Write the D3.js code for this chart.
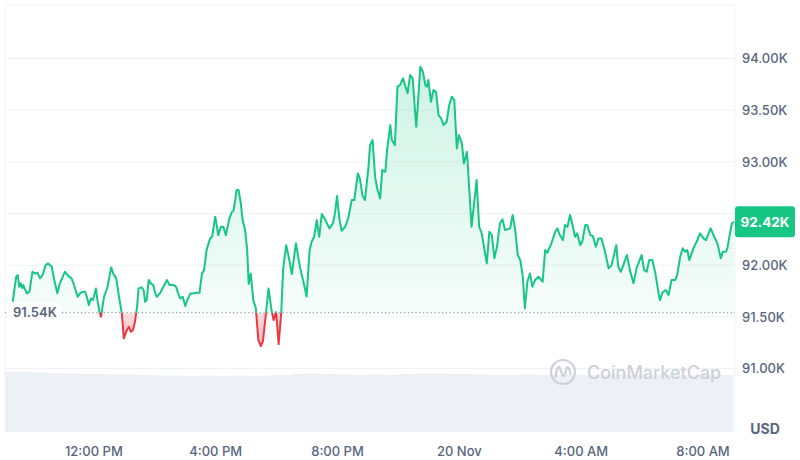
<!DOCTYPE html>
<html>
<head>
<meta charset="utf-8">
<script src="https://cdn.jsdelivr.net/npm/d3@7/dist/d3.min.js"></script>
<style>
  html, body { margin: 0; padding: 0; background: #ffffff; }
  svg { display: block; font-family: Inter, "Open Sans", "DejaVu Sans", sans-serif; }
</style>
</head>
<body>
<svg id="chart" width="800" height="460"></svg>
<script>
// ---------------- DATA ----------------
// minutes after 09:00, 19 Nov
const minutes = [21,28,31,34,37,40,42,49,54,60,65,70,75,80,86,91,98,103,109,114,121,124,131,137,142,149,154,159,164,168,171,175,179,181,185,188,192,195,197,201,208,215,219,225,231,236,240,246,250,254,258,262,266,269,275,279,282,285,289,293,298,302,305,311,318,325,330,338,343,347,351,356,361,365,371,376,384,389,394,398,403,410,414,420,423,426,431,436,441,448,453,456,459,462,466,470,474,479,483,486,490,495,500,505,510,514,520,525,531,535,540,545,550,554,560,566,571,579,587,594,600,606,610,615,620,625,630,637,645,652,656,660,665,669,676,682,689,694,701,705,710,715,722,725,730,735,739,745,749,755,759,765,768,774,779,784,790,794,799,804,809,816,819,824,829,834,837,840,845,850,855,860,865,870,876,881,886,891,896,900,906,910,916,925,935,940,945,955,960,965,970,975,981,986,991,1001,1006,1011,1016,1021,1026,1030,1035,1040,1045,1050,1057,1065,1070,1074,1081,1090,1094,1099,1105,1109,1114,1119,1124,1129,1133,1139,1143,1149,1153,1159,1164,1170,1175,1181,1188,1195,1201,1210,1214,1219,1224,1231,1237,1244,1250,1260,1265,1270,1275,1281,1287,1293,1296,1302,1308,1313,1319,1326,1330,1336,1341,1346,1350,1354,1362,1370,1375,1382,1387,1392,1396,1403,1408,1411,1416,1420,1426,1429,1434,1438,1442];
// BTC price in USD
const prices = [91646,91888,91904,91791,91824,91778,91807,91727,91742,91936,91920,91926,91872,91904,92001,92017,91984,91856,91727,91824,91904,91936,91894,91872,91807,91694,91727,91742,91742,91678,91614,91678,91662,91694,91775,91662,91549,91500,91565,91694,91791,91978,91920,91872,91678,91533,91291,91372,91404,91355,91372,91452,91597,91775,91785,91759,91646,91662,91856,91824,91807,91727,91694,91727,91791,91856,91807,91807,91791,91727,91678,91694,91604,91662,91727,91727,91733,91733,91920,91952,92146,92259,92275,92468,92388,92291,92372,92372,92291,92453,92517,92526,92614,92727,92727,92614,92436,92340,92146,91817,91920,91662,91585,91275,91217,91265,91533,91775,91565,91468,91546,91236,91533,91972,92194,92049,91914,92211,91981,91836,91696,92146,92226,92275,92436,92275,92495,92436,92356,92405,92501,92669,92436,92333,92372,92453,92630,92630,92888,92840,92678,92630,92952,93162,93211,92856,92743,92646,92920,92904,93130,93356,93211,93162,93727,93743,93808,93743,93663,93840,93808,93340,93533,93920,93872,93743,93727,93792,93582,93695,93678,93453,93421,93356,93388,93550,93630,93598,93130,93259,93179,92985,93098,92372,92824,92372,92308,92017,92323,92291,92066,92178,92405,92443,92340,92356,92485,92340,92098,92049,91888,91582,91839,91920,91791,91856,91888,91839,92146,92120,92194,92323,92356,92291,92243,92388,92372,92485,92388,92275,92308,92194,92226,92388,92388,92291,92282,92178,92259,92259,92130,91969,92001,92194,91984,91936,92001,92098,91952,91824,91969,92098,91952,91936,92049,92049,91926,91742,91662,91742,91759,91710,91856,91856,91904,92081,92163,92130,92146,92049,92163,92243,92308,92259,92243,92308,92356,92275,92226,92178,92066,92130,92130,92163,92308,92405,92420];
// 30-minute volume bars (relative units), from 09:00
const volumes = [60,60,59.5,59,58.5,58,58,57.5,57.5,57,56.5,56.5,56,56.5,56,56.5,56,56.5,57,58,58.5,58,57.5,57,57.5,57,58,58.5,58.5,58,58,57.5,57,57,57.5,57,57,57.5,57,57,57.5,57,57,57.5,57,57,57.5,57];
const openPrice = 91540;
const gridTicks = [91000, 91500, 92000, 92500, 93000, 93500, 94000];
const yTicks = [91000, 91500, 92000, 93000, 93500, 94000]; // 92.50K is hidden behind the price tag
const yTickLabels = ["91.00K","91.50K","92.00K","93.00K","93.50K","94.00K"];
const xTickHours = [3, 7, 11, 15, 19, 23]; // hours after 09:00
const xTickLabels = ["12:00 PM","4:00 PM","8:00 PM","20 Nov","4:00 AM","8:00 AM"];
const lastLabel = "92.42K";
const baseLabel = "91.54K";

// ---------------- CHART ----------------
const svg = d3.select("#chart");
const start = new Date(2024, 10, 19, 9, 0);
const data = minutes.map((m, i) => ({ t: d3.timeMinute.offset(start, m), p: prices[i] }));

const plotL = 5, plotR = 735, plotT = 5, plotB = 432;
const x = d3.scaleTime().domain([start, d3.timeMinute.offset(start, 1444)]).range([2, 735]);
const y = d3.scaleLinear().domain([91000, 94000]).range([368.5, 58.5]);
const vY = d3.scaleLinear().domain([0, 60]).range([plotB, 372]);

const GREEN = "#16c784", RED = "#ea3943", TXT = "#58667e";

const defs = svg.append("defs");
const gGrad = defs.append("linearGradient").attr("id", "gfill").attr("gradientUnits", "userSpaceOnUse")
  .attr("x1", 0).attr("x2", 0).attr("y1", y(94000)).attr("y2", y(openPrice));
gGrad.append("stop").attr("offset", 0).attr("stop-color", GREEN).attr("stop-opacity", 0.22);
gGrad.append("stop").attr("offset", 1).attr("stop-color", GREEN).attr("stop-opacity", 0.04);
const rGrad = defs.append("linearGradient").attr("id", "rfill").attr("gradientUnits", "userSpaceOnUse")
  .attr("x1", 0).attr("x2", 0).attr("y1", y(openPrice)).attr("y2", y(91200));
rGrad.append("stop").attr("offset", 0).attr("stop-color", RED).attr("stop-opacity", 0.15);
rGrad.append("stop").attr("offset", 1).attr("stop-color", RED).attr("stop-opacity", 0.4);

const by = y(openPrice);
defs.append("clipPath").attr("id", "above").append("rect")
  .attr("x", 0).attr("y", 0).attr("width", 800).attr("height", by);
defs.append("clipPath").attr("id", "below").append("rect")
  .attr("x", 0).attr("y", by).attr("width", 800).attr("height", 460 - by);

// volume bars
svg.append("g").selectAll("rect").data(volumes).join("rect")
  .attr("x", (d, i) => Math.max(plotL, x(d3.timeMinute.offset(start, i * 30))))
  .attr("width", (d, i) => {
    const x0 = Math.max(plotL, x(d3.timeMinute.offset(start, i * 30)));
    const x1 = Math.min(plotR, x(d3.timeMinute.offset(start, (i + 1) * 30)));
    return Math.max(0, x1 - x0 + 0.3);
  })
  .attr("y", d => vY(d)).attr("height", d => plotB - vY(d))
  .attr("fill", "#edf0f4");

// grid
svg.append("g").selectAll("line").data(gridTicks).join("line")
  .attr("x1", plotL).attr("x2", plotR).attr("y1", d => y(d)).attr("y2", d => y(d))
  .attr("stroke", "#eff2f5").attr("stroke-width", 1);
svg.append("line").attr("x1", plotL).attr("x2", plotR).attr("y1", plotT).attr("y2", plotT)
  .attr("stroke", "#eff2f5");
svg.append("line").attr("x1", plotR).attr("x2", plotR).attr("y1", plotT).attr("y2", plotB)
  .attr("stroke", "#eff2f5");
svg.append("line").attr("x1", plotL).attr("x2", plotL).attr("y1", plotT).attr("y2", plotB)
  .attr("stroke", "#f3f5f8");

// watermark
const wm = svg.append("g").attr("opacity", 0.9);
wm.append("circle").attr("cx", 563).attr("cy", 372).attr("r", 12)
  .attr("fill", "none").attr("stroke", "#c9cdd6").attr("stroke-width", 2.2);
wm.append("path").attr("d", "M555.5,377 Q557,366 559.5,367 L562.5,375 Q563.5,377 564.5,375 L567,367.5 Q569,366 570.5,374")
  .attr("fill", "none").attr("stroke", "#c9cdd6").attr("stroke-width", 2.2).attr("stroke-linecap", "round");
wm.append("text").attr("x", 587).attr("y", 378.5).text("CoinMarketCap")
  .attr("font-size", 18).attr("font-weight", 500).attr("fill", "#c9cdd6");

// areas
const area = d3.area().x(d => x(d.t)).y0(by).y1(d => y(d.p));
const line = d3.line().x(d => x(d.t)).y(d => y(d.p));
svg.append("path").datum(data).attr("d", area).attr("fill", "url(#gfill)").attr("clip-path", "url(#above)");
svg.append("path").datum(data).attr("d", area).attr("fill", "url(#rfill)").attr("clip-path", "url(#below)");

// baseline
svg.append("line").attr("x1", plotL).attr("x2", plotR).attr("y1", by).attr("y2", by)
  .attr("stroke", "#9aa3b2").attr("stroke-width", 1.2).attr("stroke-dasharray", "1.2,2.6");

// price line
svg.append("path").datum(data).attr("d", line).attr("fill", "none").attr("stroke", GREEN)
  .attr("stroke-width", 2).attr("stroke-linejoin", "round").attr("clip-path", "url(#above)");
svg.append("path").datum(data).attr("d", line).attr("fill", "none").attr("stroke", RED)
  .attr("stroke-width", 2).attr("stroke-linejoin", "round").attr("clip-path", "url(#below)");

// base label
svg.append("rect").attr("x", 9).attr("y", by - 10).attr("width", 52).attr("height", 20)
  .attr("rx", 3).attr("fill", "#ffffff").attr("opacity", 0.92);
svg.append("text").attr("x", 13).attr("y", by + 4.5).text(baseLabel)
  .attr("font-size", 13).attr("font-weight", 600).attr("fill", TXT);

// right axis
const yAxis = svg.append("g").attr("transform", `translate(${plotR},0)`)
  .call(d3.axisRight(y).tickValues(yTicks).tickFormat((d, i) => yTickLabels[i]).tickSize(0).tickPadding(7));
yAxis.select(".domain").remove();
yAxis.selectAll("text").attr("font-size", 13).attr("font-weight", 500).attr("fill", TXT)
  .attr("font-family", "Inter, sans-serif");

// last price tag
const lastY = y(prices[prices.length - 1]);
svg.append("rect").attr("x", plotR).attr("y", lastY - 15.5).attr("width", 60).attr("height", 31)
  .attr("rx", 3).attr("fill", GREEN);
svg.append("text").attr("x", plotR + 30).attr("y", lastY + 5).attr("text-anchor", "middle")
  .text(lastLabel).attr("font-size", 13.5).attr("font-weight", 700).attr("fill", "#ffffff");

// bottom axis
const xAxis = svg.append("g").attr("transform", `translate(0,${plotB})`)
  .call(d3.axisBottom(x).tickValues(xTickHours.map(h => d3.timeHour.offset(start, h)))
    .tickFormat((d, i) => xTickLabels[i]).tickSize(0).tickPadding(15));
xAxis.select(".domain").remove();
xAxis.selectAll("text").attr("font-size", 13).attr("font-weight", 500).attr("fill", TXT)
  .attr("font-family", "Inter, sans-serif");

svg.append("text").attr("x", 765).attr("y", 433.5).attr("text-anchor", "middle").text("USD")
  .attr("font-size", 14).attr("font-weight", 700).attr("fill", TXT);
</script>
</body>
</html>
